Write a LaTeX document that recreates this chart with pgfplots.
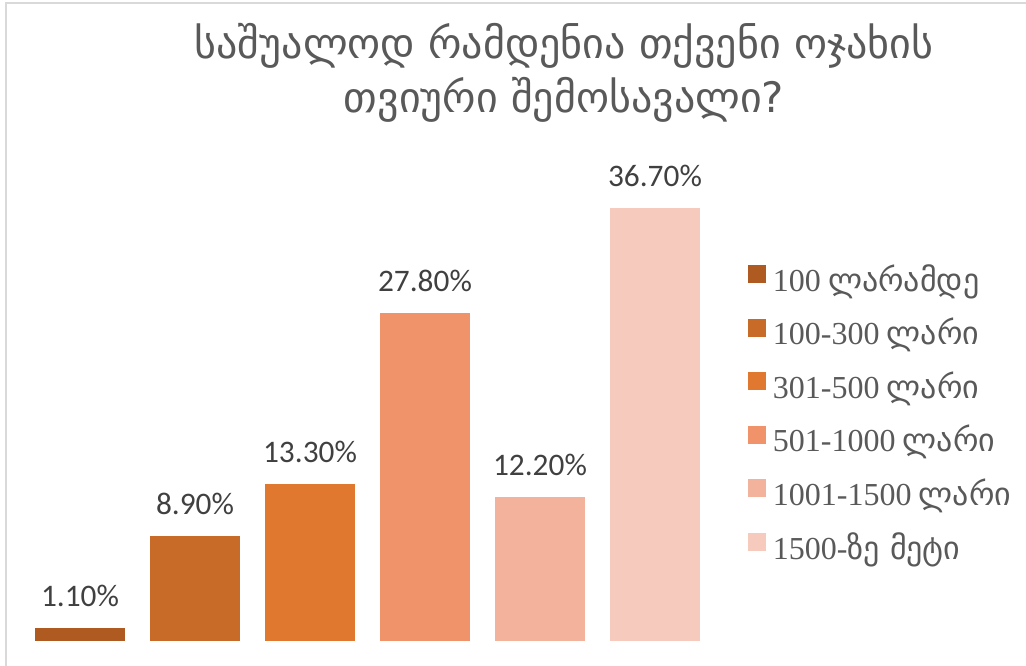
\documentclass[border=0pt]{standalone}
\usepackage{pgfplots}
\pgfplotsset{compat=1.18}
\usepackage{fontspec}
\setmainfont{Carlito}
\newfontfamily\geo{DejaVu Sans}
\newfontfamily\lserif{Liberation Serif}
\definecolor{c1}{HTML}{AE5A21}
\definecolor{c2}{HTML}{C86A28}
\definecolor{c3}{HTML}{E1782F}
\definecolor{c4}{HTML}{F0936A}
\definecolor{c5}{HTML}{F3B29C}
\definecolor{c6}{HTML}{F6CBBE}
\definecolor{titlegray}{HTML}{595959}
\definecolor{labelgray}{HTML}{404040}
\definecolor{framegray}{HTML}{D9D9D9}
\begin{document}
\begin{tikzpicture}
\path[use as bounding box] (0,0) rectangle (769.5pt,-499.5pt);
\draw[framegray, line width=1.5pt] (4.3pt,-499.5pt) -- (4.3pt,-1.9pt) -- (769.5pt,-1.9pt);
\node[titlegray, font=\geo\fontsize{31.5}{40.5}\selectfont, align=center, anchor=center] at (423pt,-55pt)
  {საშუალოდ რამდენია თქვენი ოჯახის\\თვიური შემოსავალი?};
\begin{axis}[
  at={(16.875pt,-480.75pt)}, anchor=south west,
  scale only axis, width=517.5pt, height=354pt,
  xmin=-0.5, xmax=5.5, ymin=0, ymax=40,
  axis lines=none, xtick=\empty, ytick=\empty,
  ybar, bar width=67.5pt, bar shift=0pt,
  clip=false,
  nodes near coords={\pgfmathprintnumber[assume math mode=true,fixed,fixed zerofill,precision=2]{\pgfplotspointmeta}\%},
  every node near coord/.append style={anchor=south, inner sep=0pt, yshift=15.75pt, text depth=0pt,
    font=\fontsize{23.5}{28}\selectfont, text=labelgray},
  legend image code/.code={\path[#1] (0pt,-0.5pt) rectangle (13.5pt,13pt);},
  legend style={at={(1.0514,0.798)}, anchor=north west, draw=none, fill=none,
    inner sep=0pt, outer sep=0pt, row sep=13.2pt, column sep=5.25pt,
    font=\fontsize{24}{28}\selectfont, text=titlegray,
    nodes={inner sep=0pt, text height=20pt, text depth=7pt}},
  legend cell align=left,
]
\addplot[fill=c1, draw=none] coordinates {(0,1.1)};
\addplot[fill=c2, draw=none] coordinates {(1,8.9)};
\addplot[fill=c3, draw=none] coordinates {(2,13.3)};
\addplot[fill=c4, draw=none] coordinates {(3,27.8)};
\addplot[fill=c5, draw=none] coordinates {(4,12.2)};
\addplot[fill=c6, draw=none] coordinates {(5,36.7)};
\legend{{\lserif 100} {\geo ლარამდე},
        {\lserif 100-300} {\geo ლარი},
        {\lserif 301-500} {\geo ლარი},
        {\lserif 501-1000} {\geo ლარი},
        {\lserif 1001-1500} {\geo ლარი},
        {\lserif 1500-}{\geo ზე მეტი}}
\end{axis}
\end{tikzpicture}
\end{document}
